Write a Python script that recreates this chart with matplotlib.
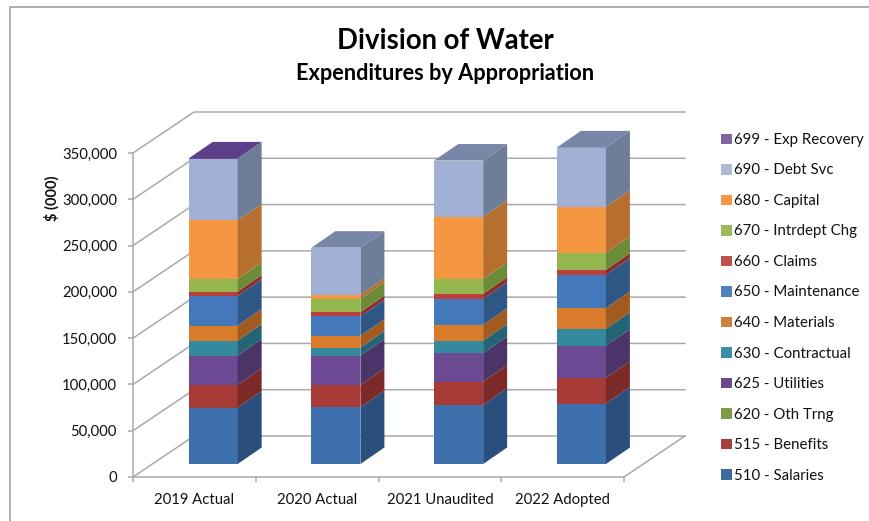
import matplotlib
matplotlib.use("Agg")
import matplotlib.pyplot as plt
from matplotlib.lines import Line2D
from matplotlib.patches import Patch
import numpy as np

plt.rcParams['font.family'] = ['Lato', 'DejaVu Sans']

years = ['2019 Actual', '2020 Actual', '2021 Unaudited', '2022 Adopted']
labels = ['510 - Salaries', '515 - Benefits', '620 - Oth Trng', '625 - Utilities',
          '630 - Contractual', '640 - Materials', '650 - Maintenance', '660 - Claims',
          '670 - Intrdept Chg', '680 - Capital', '690 - Debt Svc', '699 - Exp Recovery']

salaries = [60900, 61300, 63900, 65300]
benefits = [24600, 24100, 25200, 27800]
oth_trng = [0, 0, 0, 0]
utilities = [31700, 31700, 30700, 34600]
contractual = [16200, 8700, 13600, 18400]
materials = [16200, 12700, 17000, 22400]
maintenance = [32100, 20900, 28100, 36000]
claims = [4600, 4700, 5400, 5400]
intrdept = [13700, 14400, 15900, 18100]
capital = [63100, 4300, 67100, 49800]
debt_svc = [66800, 50900, 60900, 64200]
exp_recovery = [200, 0, 0, 0]

series = [salaries, benefits, oth_trng, utilities, contractual, materials,
          maintenance, claims, intrdept, capital, debt_svc, exp_recovery]

front_colors = ['#3F70AE', '#A53A36', '#7E9F3F', '#6C4A93', '#34899E', '#D97B2B',
                '#4379BB', '#BC3F3B', '#94B84F', '#F59642', '#A0B1D5', '#7F5FA5']
side_colors = ['#2A4F7C', '#7C2A28', '#5C752E', '#4B3468', '#246475', '#A15A1F',
               '#2F5785', '#8C2E2B', '#6B8B39', '#B66F2F', '#6E7E99', '#5D4478']
top_colors = ['#4A78AE', '#B04A46', '#86A64A', '#7457A0', '#3F92A6', '#DE8638',
              '#4F81BD', '#C0504D', '#9BBB59', '#F79646', '#7886A8', '#5D3F87']
legend_colors = ['#3F6A9F', '#A33F3C', '#7F9A48', '#6A4C8C', '#3A8FA6', '#CF7F3A',
                 '#4F81BD', '#C0504D', '#9BBB59', '#F79646', '#AABAD7', '#8064A2']

W, H = 869, 521
LEFT, RIGHT, TOP, BOTTOM = 133, 624, 153, 477
PX_X = 4 / (RIGHT - LEFT)
PX_Y = 350000 / (BOTTOM - TOP)
GRID = '#A9A9A9'
TEXT = '#111111'

fig = plt.figure(figsize=(W / 100, H / 100), dpi=100)
ax = fig.add_axes([LEFT / W, 1 - BOTTOM / H, (RIGHT - LEFT) / W, (BOTTOM - TOP) / H])
ax.set_xlim(0, 4)
ax.set_ylim(0, 350000)
ax.patch.set_alpha(0)

# fake 3d depth, in data units
wall_dx, wall_dy = 61 * PX_X, 41 * PX_Y
front_dy = 13 * PX_Y
bar_dx, bar_dy = 24 * PX_X, 16.5 * PX_Y
bar_width = 49 * PX_X
offset = 0.153

# walls and floor
for tick in np.arange(0, 350001, 50000):
    ax.plot([0, wall_dx, 4 + wall_dx], [tick, tick + wall_dy, tick + wall_dy],
            color=GRID, lw=1.1, clip_on=False, zorder=1)
ax.plot([4, 4 + wall_dx], [0, wall_dy], color=GRID, lw=1.1, clip_on=False, zorder=1)

# bars
x = np.arange(4) + 0.5 + offset
for i in range(4):
    bottom = front_dy
    left, right = x[i] - bar_width / 2, x[i] + bar_width / 2
    for j, values in enumerate(series):
        val = values[i]
        if val == 0:
            continue
        ax.bar(x[i], val, bar_width, bottom=bottom, color=front_colors[j], clip_on=False, zorder=3)
        ax.fill([right, right + bar_dx, right + bar_dx, right],
                [bottom, bottom + bar_dy, bottom + val + bar_dy, bottom + val],
                color=side_colors[j], lw=0, clip_on=False, zorder=3)
        bottom += val
        top_j = j
    ax.fill([left, left + bar_dx, right + bar_dx, right],
            [bottom, bottom + bar_dy, bottom + bar_dy, bottom],
            color=top_colors[top_j], lw=0, clip_on=False, zorder=3)

# axes
for side in ['top', 'right']:
    ax.spines[side].set_visible(False)
for side in ['left', 'bottom']:
    ax.spines[side].set_color(GRID)
    ax.spines[side].set_linewidth(1.1)
    ax.spines[side].set_zorder(2)
ax.set_yticks(np.arange(0, 350001, 50000))
ax.set_yticklabels([f'{v:,}' for v in np.arange(0, 350001, 50000)])
ax.set_xticks(np.arange(5))
ax.set_xticklabels([])
ax.set_xticks(np.arange(4) + 0.5, labels=years, minor=True)
ax.tick_params(axis='both', which='major', color=GRID, length=3.6, width=1.1,
               labelsize=10.7, pad=8, labelcolor=TEXT)
ax.tick_params(axis='x', which='minor', length=0, labelsize=10.7, pad=11.5, labelcolor=TEXT)

fig.text(52 / W, 1 - 198 / H, '$ (000)', rotation=90, ha='center', va='center',
         fontsize=10.5, fontweight='bold', color=TEXT)
fig.text(445.5 / W, 1 - 41 / H, 'Division of Water', ha='center', va='center',
         fontsize=19.8, fontweight='bold', color='black')
fig.text(445.5 / W, 1 - 73 / H, 'Expenditures by Appropriation', ha='center', va='center',
         fontsize=15.7, fontweight='bold', color='black')

handles = [Patch(facecolor=c, edgecolor='none') for c in legend_colors]
fig.legend(handles[::-1], labels[::-1], loc='upper left',
           bbox_to_anchor=(721 / W, 1 - 133 / H), frameon=False, fontsize=10.8,
           handlelength=0.7, handleheight=0.7, handletextpad=0.2,
           labelspacing=1.1, borderpad=0, borderaxespad=0, labelcolor=TEXT)

# outer chart border, runs off the page on the right and bottom
fig.add_artist(Line2D([10 / W, 10 / W, 1], [0, 1 - 7 / H, 1 - 7 / H],
                      color='#A8A8A8', lw=1.3, transform=fig.transFigure))

fig.savefig('out.png', dpi=100)
